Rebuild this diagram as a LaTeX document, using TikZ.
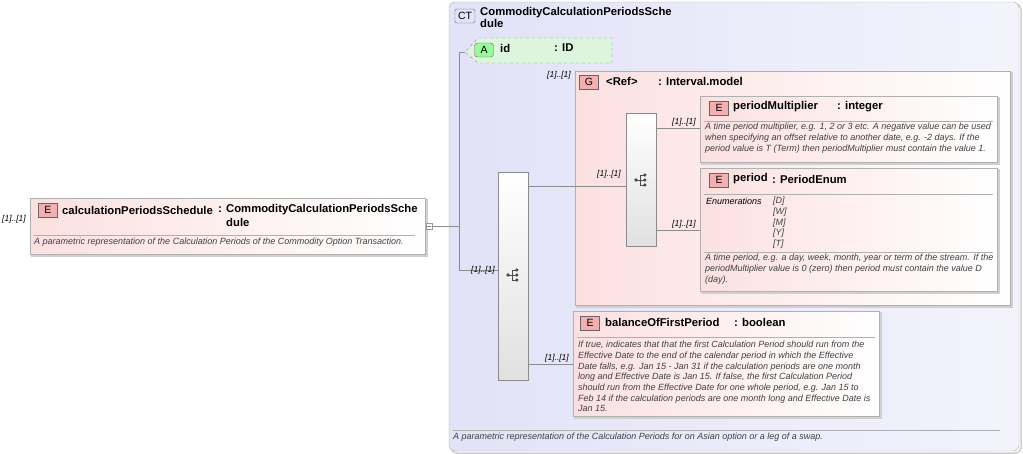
\documentclass[tikz,border=0pt]{standalone}
\usepackage{fontspec}
\setmainfont{Liberation Sans}
\usetikzlibrary{positioning,calc}
\definecolor{ctfill}{HTML}{E2E2F8}
\definecolor{elfill}{HTML}{FCE0E0}
\definecolor{atfill}{HTML}{DDF5DD}
\definecolor{boxline}{HTML}{B0B0B0}
\definecolor{badge}{HTML}{F4B0B0}
\tikzset{
  box/.style={draw=boxline,line width=0.6pt},
  shadowed/.style={draw=boxline!60,line width=1.5pt},
  title/.style={anchor=west,inner sep=0pt,font=\fontsize{11.3}{12}\selectfont\bfseries},
  doc/.style={anchor=north west,inner sep=0pt,align=left,font=\fontsize{9}{10.7}\selectfont\itshape,text=black!75},
  mult/.style={inner sep=0pt,font=\fontsize{8.5}{9}\selectfont\itshape},
  badgeE/.style={draw=black!60,fill=badge,inner sep=0pt,minimum width=19pt,minimum height=14pt,font=\fontsize{10.5}{11}\selectfont},
  conn/.style={draw=black!45,line width=0.5pt},
  seq/.style={draw=black!45,top color=white,bottom color=black!12,line width=0.5pt}
}
\newcommand{\seqsym}[1]{%
  \fill[black!70] ($(#1)+(-5,0)$) circle (1.8);
  \draw[black!70,line width=0.8pt] ($(#1)+(-5,0)$) -- ($(#1)+(-1,0)$) ($(#1)+(-1,-5)$) -- ($(#1)+(-1,5)$);
  \foreach \d in {-5,0,5} {\draw[black!70,line width=0.8pt] ($(#1)+(-1,\d)$) -- ($(#1)+(3,\d)$);
    \fill[black!70] ($(#1)+(3.8,\d)$) circle (1.8);}}
\begin{document}
\begin{tikzpicture}[x=1pt,y=-1pt]
\useasboundingbox (0,0) rectangle (1023,453);
% complex type
\draw[shadowed,rounded corners=6] (451,4) rectangle (1021,453);
\shade[left color=ctfill,right color=ctfill!40!white,draw=boxline,rounded corners=6] (449,2) rectangle (1019,451);
\node[draw=black!60,fill=ctfill,rounded corners=2,inner sep=0pt,minimum width=20pt,minimum height=14pt,font=\fontsize{10.5}{11}\selectfont] (ctbadge) at (465,16) {CT};
\node[anchor=north west,inner sep=0pt,align=left,font=\fontsize{11.3}{12.5}\selectfont\bfseries] (cttitle) at (480,7) {CommodityCalculationPeriodsSche\\dule};
\draw[boxline] (453,430) -- (1000,430);
\node[doc] (ctdoc) at (453,433) {A parametric representation of the Calculation Periods for on Asian option or a leg of a swap.};
% main element
\draw[shadowed] (32,200) rectangle (427,256);
\shade[left color=elfill,right color=white,draw=boxline] (30,198) rectangle (425,254);
\node[badgeE] (mainE) at (48,210) {E};
\node[title] (mainname) at (62,210) {calculationPeriodsSchedule};
\node[title] (maintype) at (218,210) {: CommodityCalculationPeriodsSche};
\node[title] (maintype2) at (226,222) {dule};
\draw[boxline] (34,235) -- (415,235);
\node[doc] (maindoc) at (34,238) {A parametric representation of the Calculation Periods of the Commodity Option Transaction.};
\node[mult] (mainmult) at (14,219) {[1]..[1]};
\node[draw=black!40,fill=white,inner sep=0pt,minimum size=6pt] (minus) at (429,226) {};
\draw[black!50] (427,226) -- (431,226);
% attribute id
\draw[dashed,draw=black!45,fill=atfill] (478,38) -- (612,38) -- (612,63) -- (478,63) -- (465,52) -- (478,38) -- cycle;
\node[draw=black!60,fill=atfill!70!green,rounded corners=3,inner sep=0pt,minimum width=19pt,minimum height=14pt,font=\fontsize{10.5}{11}\selectfont] (attA) at (484,50) {A};
\node[title] (attname) at (500,48) {id};
\node[title] (atttype) at (554,48) {: ID};
% outer sequence
\coordinate (fork) at (459,226);
\draw[conn] (minus.east) -- (fork);
\draw[conn] (465,52) -- (459,52) -- (459,270) -- (498,270);
\node[mult] (seqmult) at (483,270) {[1]..[1]};
\node[seq,minimum width=30pt,minimum height=208pt,inner sep=0pt] (outerseq) at (513,276) {};
\seqsym{513,275}
% group
\draw[shadowed] (577,73) rectangle (1012,307);
\shade[left color=elfill,right color=white,draw=boxline] (575,71) rectangle (1010,305);
\node[draw=black!60,fill=badge,inner sep=0pt,minimum width=19pt,minimum height=14pt,font=\fontsize{10.5}{11}\selectfont] (gbadge) at (589,82) {G};
\node[title] (gname) at (606,81) {<Ref>};
\node[title] (gtype) at (658,81) {: Interval.model};
\node[mult] (gmult) at (559,75) {[1]..[1]};
% inner sequence
\node[seq,minimum width=30pt,minimum height=133pt,inner sep=0pt] (innerseq) at (641,180) {};
\seqsym{641,180}
\draw[conn] (528,186) -- (626,186);
\node[mult] (innermult) at (609,174) {[1]..[1]};
% periodMultiplier
\draw[shadowed] (702,98) rectangle (999,164);
\shade[left color=elfill,right color=white,draw=boxline] (700,96) rectangle (997,162);
\node[badgeE] (pmE) at (719,108) {E};
\node[title] (pmname) at (733,107) {periodMultiplier};
\node[title] (pmtype) at (837,107) {: integer};
\draw[boxline] (704,121) -- (993,121);
\node[doc] (pmdoc) at (705,123) {A time period multiplier, e.g. 1, 2 or 3 etc. A negative value can be used\\when specifying an offset relative to another date, e.g. -2 days. If the\\period value is T (Term) then periodMultiplier must contain the value 1.};
\draw[conn] (656,128) -- (700,128);
\node[mult] (pmmult) at (684,122) {[1]..[1]};
% period
\draw[shadowed] (702,170) rectangle (999,293);
\shade[left color=elfill,right color=white,draw=boxline] (700,168) rectangle (997,291);
\node[badgeE] (perE) at (719,180) {E};
\node[title] (pername) at (733,179) {period};
\node[title] (pertype) at (772,179) {: PeriodEnum};
\draw[boxline] (704,194) -- (993,194);
\node[doc,text=black] (enumlbl) at (706,198) {Enumerations};
\node[doc] (enumvals) at (773,197) {{[D]}\\{[W]}\\{[M]}\\{[Y]}\\{[T]}};
\draw[boxline] (704,252) -- (993,252);
\node[doc] (perdoc) at (705,254) {A time period, e.g. a day, week, month, year or term of the stream. If the\\periodMultiplier value is 0 (zero) then period must contain the value D\\(day).};
\draw[conn] (656,230) -- (700,230);
\node[mult] (permult) at (684,224) {[1]..[1]};
% balanceOfFirstPeriod
\draw[shadowed] (575,313) rectangle (881,418);
\shade[left color=elfill,right color=white,draw=boxline] (573,311) rectangle (879,416);
\node[badgeE] (bfE) at (590,323) {E};
\node[title] (bfname) at (605,322) {balanceOfFirstPeriod};
\node[title] (bftype) at (734,322) {: boolean};
\draw[boxline] (577,337) -- (875,337);
\node[doc] (bfdoc) at (578,341) {If true, indicates that that the first Calculation Period should run from the\\Effective Date to the end of the calendar period in which the Effective\\Date falls, e.g. Jan 15 - Jan 31 if the calculation periods are one month\\long and Effective Date is Jan 15. If false, the first Calculation Period\\should run from the Effective Date for one whole period, e.g. Jan 15 to\\Feb 14 if the calculation periods are one month long and Effective Date is\\Jan 15.};
\draw[conn] (528,364) -- (573,364);
\node[mult] (bfmult) at (557,358) {[1]..[1]};
\end{tikzpicture}
\end{document}
